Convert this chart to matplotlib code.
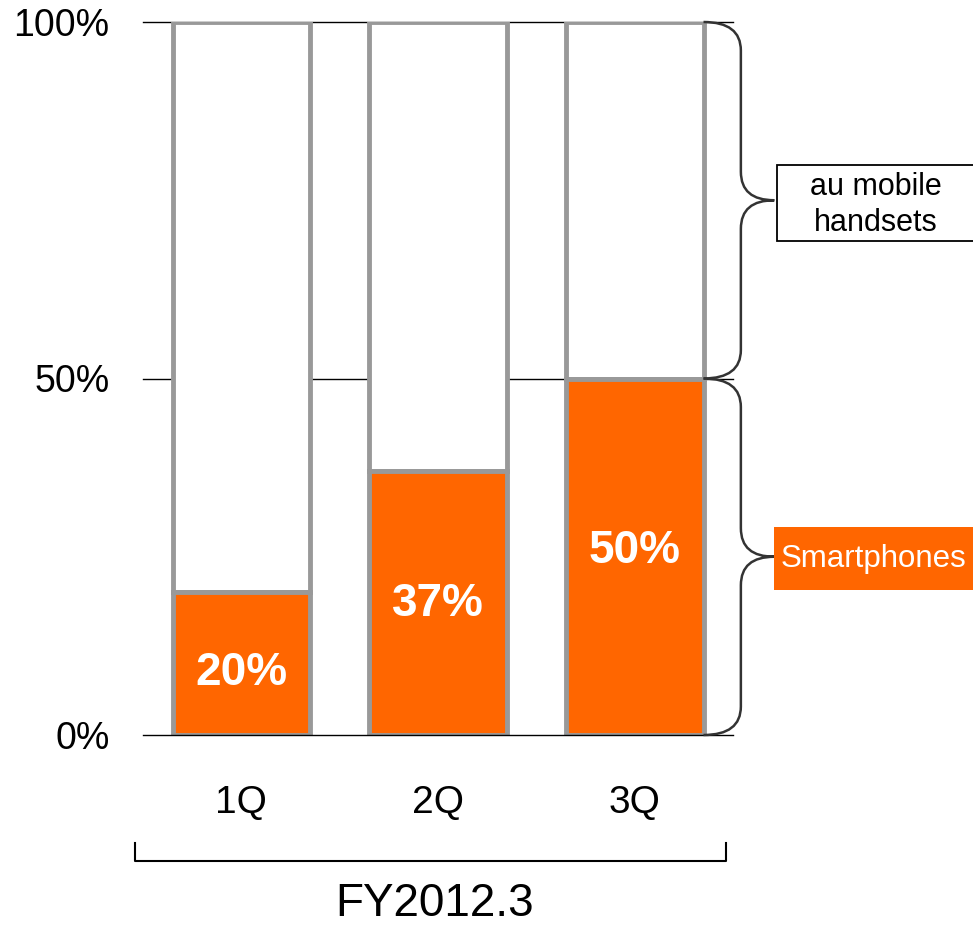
import matplotlib
matplotlib.use("Agg")
import matplotlib.pyplot as plt
from matplotlib.path import Path
from matplotlib.patches import PathPatch, Rectangle

plt.rcParams['font.family'] = ['Liberation Sans', 'DejaVu Sans']

quarters = ["1Q", "2Q", "3Q"]
smartphone_share = [20, 37, 50]
ytick_values = [0, 50, 100]
ytick_labels = ["0%", "50%", "100%"]
period_label = "FY2012.3"
segment_labels = ["au mobile\nhandsets", "Smartphones"]

ORANGE = "#FF6600"
GRAY = "#999999"

W, H = 973, 926
fig = plt.figure(figsize=(W / 100, H / 100), dpi=100)
ax = fig.add_axes([143 / W, 1 - 735 / H, 590 / W, 713 / H])
ax.set_xlim(-0.5, 2.5)
ax.set_ylim(0, 100)
for s in ax.spines.values():
    s.set_visible(False)

x = list(range(len(quarters)))
bar_w = 0.7
rest = [100 - v for v in smartphone_share]

# gridlines
for yv in ytick_values:
    ax.axhline(yv, color="black", lw=1.0, clip_on=False,
               zorder=3 if yv == 0 else 0.5)

ax.bar(x, smartphone_share, width=bar_w, color=ORANGE, edgecolor=GRAY,
       linewidth=3.5, zorder=2)
ax.bar(x, rest, bottom=smartphone_share, width=bar_w, color="white",
       edgecolor=GRAY, linewidth=3.5, zorder=1.5)

for xi, v in zip(x, smartphone_share):
    ax.text(xi, 0.57 * v - 2.0, f"{v}%", ha="center", va="center_baseline",
            color="white", fontsize=33, fontweight="bold", zorder=4)

ax.set_yticks(ytick_values)
ax.set_yticklabels(ytick_labels, fontsize=27)
ax.set_xticks(x)
ax.set_xticklabels(quarters, fontsize=28)
ax.tick_params(axis="y", length=0, pad=24)
ax.tick_params(axis="x", length=0, pad=36)


def brace(x0, y_lo, y_hi, depth=0.19, tip=0.36, r=4.0):
    xm, xt = x0 + depth, x0 + tip
    ym = (y_lo + y_hi) / 2
    verts = [
        (x0, y_hi),
        (xm, y_hi), (xm, y_hi - r),
        (xm, ym + r),
        (xm, ym), (xt, ym),
        (xm, ym), (xm, ym - r),
        (xm, y_lo + r),
        (xm, y_lo), (x0, y_lo),
    ]
    codes = [Path.MOVETO,
             Path.CURVE3, Path.CURVE3,
             Path.LINETO,
             Path.CURVE3, Path.CURVE3,
             Path.CURVE3, Path.CURVE3,
             Path.LINETO,
             Path.CURVE3, Path.CURVE3]
    ax.add_patch(PathPatch(Path(verts, codes), fill=False, edgecolor="#333333",
                           lw=1.8, clip_on=False, zorder=5))


x_edge = x[-1] + bar_w / 2
last = smartphone_share[-1]
brace(x_edge, last, 100)
brace(x_edge, 0, last)

# segment label boxes (figure pixel coordinates)
def fx(px):
    return px / W


def fy(py):
    return 1 - py / H


fig.patches.append(Rectangle((fx(777), fy(241)), fx(230), 76 / H,
                             transform=fig.transFigure, facecolor="white",
                             edgecolor="black", lw=1.3, zorder=5))
fig.text(fx(876), fy(205), segment_labels[0], ha="center", va="center",
         fontsize=22, linespacing=1.25, color="black", zorder=6)

fig.patches.append(Rectangle((fx(774), fy(590)), fx(230), 63 / H,
                             transform=fig.transFigure, facecolor=ORANGE,
                             edgecolor="none", zorder=5))
fig.text(fx(874), fy(559), segment_labels[1], ha="center", va="center",
         fontsize=22.5, color="white", zorder=6)

# period bracket below the quarters
fig.lines.append(plt.Line2D([fx(135), fx(135), fx(726), fx(726)],
                            [fy(843), fy(861), fy(861), fy(843)],
                            transform=fig.transFigure, color="black", lw=1.5))
fig.text(fx(435), fy(904), period_label, ha="center", va="center", fontsize=33)

fig.savefig("out.png", dpi=100)
